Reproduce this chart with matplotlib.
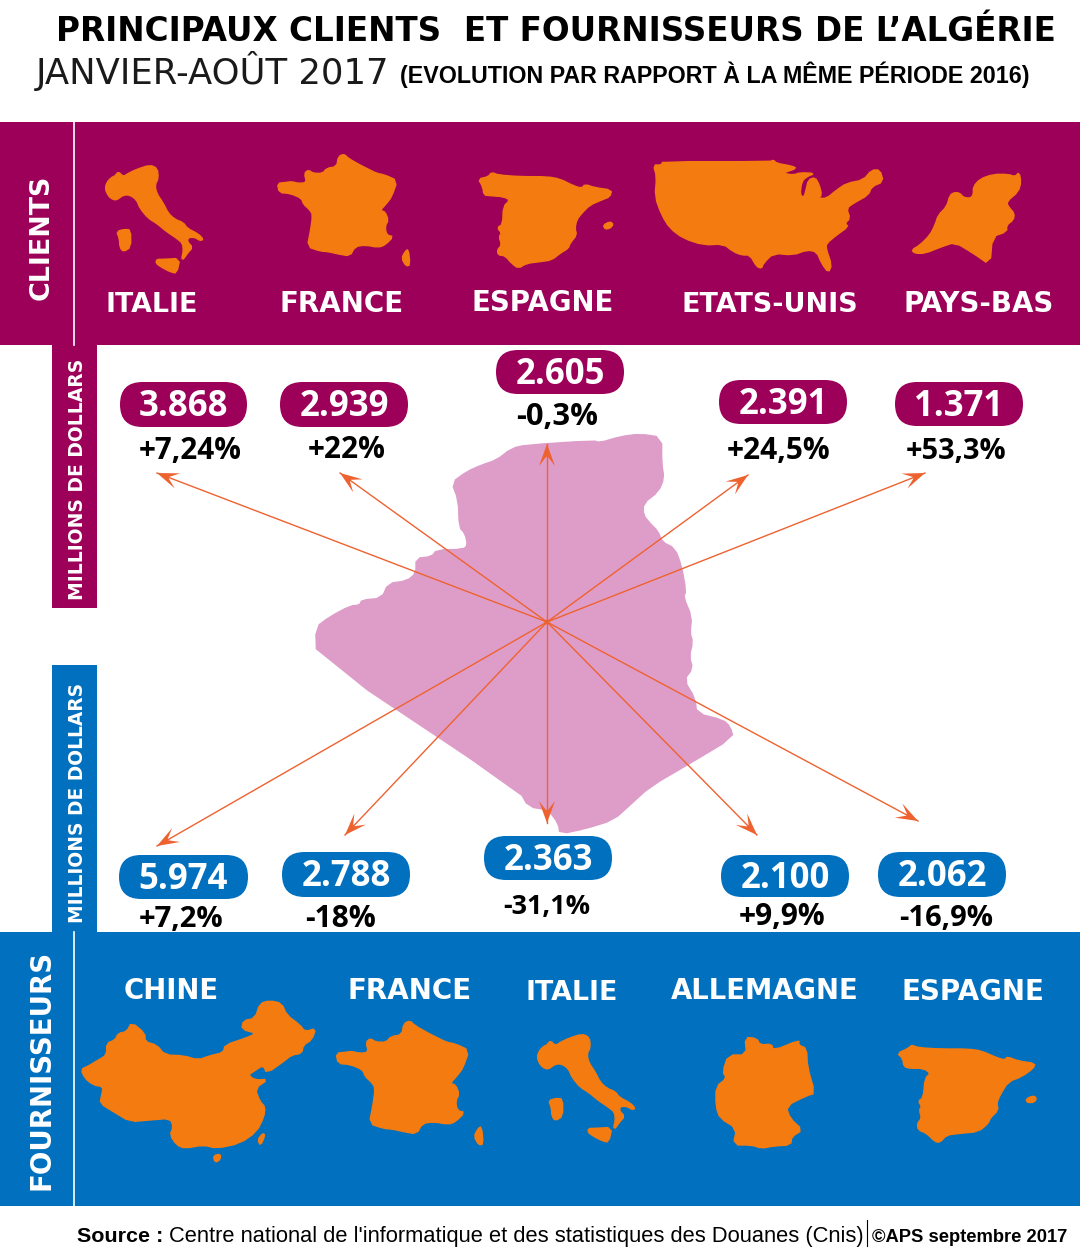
import matplotlib
matplotlib.use("Agg")
import matplotlib.pyplot as plt
from matplotlib.patches import Polygon, Rectangle, FancyBboxPatch, Circle
import math

PURPLE = '#9c0058'
BLUE = '#0070bf'
ORANGE = '#f47b10'
PINK = '#de9dc9'
ARROW = '#ee6230'

# data
client_names = ['ITALIE', 'FRANCE', 'ESPAGNE', 'ETATS-UNIS', 'PAYS-BAS']
client_values = ['3.868', '2.939', '2.605', '2.391', '1.371']
client_changes = ['+7,24%', '+22%', '-0,3%', '+24,5%', '+53,3%']
supplier_names = ['CHINE', 'FRANCE', 'ITALIE', 'ALLEMAGNE', 'ESPAGNE']
supplier_values = ['5.974', '2.788', '2.363', '2.100', '2.062']
supplier_changes = ['+7,2%', '-18%', '-31,1%', '+9,9%', '-16,9%']

# layout, in pixels: name x0, x1, baseline / pill x0, x1, y0, y1 / change x0, x1, baseline / arrow tip
client_name_pos = [(106, 198, 312), (280, 404, 312), (471, 613, 311), (682, 858, 312), (904, 1054, 312)]
client_pills = [(120, 247, 382, 427), (280, 408, 382, 427), (496, 624, 350, 394), (719, 847, 380, 424), (895, 1023, 382, 426)]
client_change_pos = [(139, 242, 459), (308, 386, 458), (516, 598, 425), (727, 831, 459), (906, 1007, 459)]
client_tips = [(157, 473), (340, 473), (547, 444), (748, 475), (925, 473)]
supplier_name_pos = [(124, 219, 999), (348, 472, 999), (525, 617, 1000), (671, 859, 999), (901, 1044, 1000)]
supplier_pills = [(119, 248, 855, 899), (282, 410, 852, 897), (484, 612, 836, 880), (721, 849, 855, 897), (878, 1006, 852, 897)]
supplier_change_pos = [(139, 224, 927), (305, 376, 927), (503, 590, 914), (739, 826, 925), (899, 993, 926)]
supplier_tips = [(157, 846), (345, 835), (547, 823), (757, 835), (918, 821)]
center = (547, 622)

algeria = [[(455,188),(500,155),(545,135),(590,120),(635,85),(680,75),(880,62),(900,68),(960,50),(1020,42),(1085,52),(1085,130),(1092,175),(1075,215),(1030,250),(1030,285),(1050,310),(1075,335),(1085,365),(1125,385),(1145,440),(1158,515),(1150,530),(1175,590),(1170,640),(1178,665),(1168,710),(1178,745),(1152,780),(1185,835),(1190,880),(1270,900),(1290,920),(1300,952),(1170,1030),(1050,1100),(990,1155),(940,1200),(860,1225),(780,1242),(775,1210),(745,1170),(685,1160),(660,1115),(50,708),(47,622),(90,590),(150,558),(180,555),(185,540),(245,535),(265,490),(320,483),(348,460),(348,415),(395,410),(410,390),(490,388),(503,375),(495,340),(478,322),(475,240)]]
italy = [[(22,65),(35,52),(45,48),(55,35),(70,50),(85,40),(110,28),(150,15),(172,25),(175,55),(165,75),(170,100),(190,130),(205,160),(225,178),(250,188),(262,205),(295,222),(310,238),(300,242),(285,232),(265,232),(262,245),(278,262),(262,280),(250,298),(245,295),(250,275),(248,250),(230,235),(200,215),(170,190),(145,175),(120,145),(110,120),(90,105),(70,105),(50,120),(38,118),(25,108),(15,85)],
         [(50,215),(72,208),(92,210),(92,262),(70,275),(60,262),(58,235)],
         [(170,298),(190,298),(240,295),(230,340),(210,335),(185,322),(168,310)]]
france = [[(22,100),(50,97),(65,95),(85,100),(110,98),(103,70),(115,60),(130,70),(158,70),(170,55),(200,50),(205,20),(222,12),(235,25),(270,45),(290,55),(320,70),(345,75),(382,92),(365,140),(350,160),(330,182),(345,185),(355,210),(345,230),(350,255),(370,260),(345,285),(325,292),(285,285),(255,290),(240,318),(205,312),(175,305),(150,303),(112,290),(122,240),(128,195),(120,180),(100,162),(95,145),(60,130),(28,128)],
          [(415,297),(420,345),(408,348),(395,325),(405,305)]]
spain = [[(25,42),(55,35),(65,22),(85,30),(150,35),(230,35),(270,42),(310,62),(335,70),(345,58),(375,68),(425,75),(420,95),(395,105),(360,120),(335,145),(320,165),(315,190),(320,210),(300,235),(295,250),(270,265),(245,285),(210,290),(170,295),(145,310),(125,295),(105,272),(85,270),(82,255),(95,240),(87,215),(95,205),(82,188),(98,178),(100,125),(120,105),(100,95),(60,92),(42,90),(38,65)],
         [(400,180),(420,170),(430,178),(420,190),(405,192)]]
spain_blue = [[(22,55),(55,40),(65,30),(85,38),(150,42),(235,42),(275,48),(320,68),(345,75),(352,65),(385,78),(435,85),(430,100),(395,125),(355,140),(330,180),(320,205),(325,225),(300,250),(295,265),(265,290),(210,295),(170,300),(150,322),(135,320),(110,295),(85,285),(82,265),(95,250),(88,225),(95,215),(85,198),(100,188),(105,130),(122,115),(100,100),(60,100),(42,95),(38,70)],
              [(408,192),(430,182),(440,190),(432,202),(412,203)]]
usa = [[(100,75),(125,75),(128,65),(450,65),(460,60),(470,70),(515,78),(530,85),(495,97),(490,100),(520,105),(540,98),(585,100),(560,110),(545,125),(540,165),(552,172),(558,150),(565,120),(585,112),(598,135),(605,165),(595,175),(620,175),(650,150),(680,130),(730,120),(755,90),(780,90),(790,125),(755,140),(745,165),(700,190),(680,205),(690,235),(675,250),(685,260),(650,285),(620,310),(618,325),(635,375),(625,398),(605,370),(590,335),(560,330),(520,345),(460,340),(430,370),(425,385),(410,380),(390,345),(365,345),(340,335),(310,312),(250,315),(190,295),(150,265),(125,225),(105,170),(110,110)]]
netherlands = [[(20,255),(45,240),(75,210),(90,180),(100,150),(125,125),(135,90),(150,82),(165,85),(175,97),(195,100),(205,90),(205,65),(225,42),(265,28),(310,28),(330,35),(342,22),(348,50),(340,80),(305,110),(310,125),(328,145),(325,165),(305,180),(305,200),(262,215),(255,300),(205,265),(150,232),(110,245),(60,265),(30,265)]]
china = [[(33,238),(55,228),(85,210),(110,195),(110,160),(135,150),(145,130),(170,125),(185,97),(225,130),(225,155),(260,165),(285,195),(340,197),(385,210),(420,197),(460,188),(465,165),(525,145),(560,130),(515,118),(520,92),(555,85),(570,40),(600,32),(635,40),(650,75),(690,105),(705,125),(738,115),(725,150),(700,165),(695,190),(665,195),(640,215),(590,250),(580,225),(550,245),(535,255),(555,270),(595,268),(555,295),(570,335),(585,350),(582,380),(560,425),(510,460),(440,475),(400,465),(345,475),(320,465),(300,435),(310,410),(300,385),(240,390),(180,395),(130,365),(90,340),(95,315),(100,290),(70,285),(45,265)],
         [(430,497),(452,492),(450,510),(435,517)],
         [(578,430),(585,435),(572,467),(563,450)]]
germany = [[(105,22),(140,25),(150,45),(185,42),(190,62),(268,30),(265,45),(290,55),(292,110),(315,190),(290,197),(228,228),(240,265),(278,300),(245,320),(242,345),(190,348),(155,355),(125,345),(70,345),(80,295),(30,265),(18,230),(18,170),(50,145),(38,125),(55,75),(110,75)]]

fig = plt.figure(figsize=(10.8, 12.56), dpi=100)
ax = fig.add_axes([0, 0, 1, 1])
ax.set_xlim(0, 1080)
ax.set_ylim(1256, 0)
ax.axis('off')
renderer = fig.canvas.get_renderer()


def put(s, x0, x1, y, family='DejaVu Sans', weight='bold', color='black', rotation=0):
    # fit the text to a pixel span along the reading direction
    anchor = (y, max(x0, x1)) if rotation else (x0, y)
    t = ax.text(anchor[0], anchor[1], s, family=family, weight=weight, color=color, fontsize=20,
                ha='left', va='baseline', rotation=rotation, rotation_mode='anchor', zorder=6)
    box = t.get_window_extent(renderer)
    length = box.height if rotation else box.width
    t.set_fontsize(20 * abs(x1 - x0) / length)
    return t


def smooth(pts):
    # one pass of corner cutting, the traced outlines are too angular otherwise
    out = []
    for i, (x, y) in enumerate(pts):
        nx, ny = pts[(i + 1) % len(pts)]
        out.append((0.75 * x + 0.25 * nx, 0.75 * y + 0.25 * ny))
        out.append((0.25 * x + 0.75 * nx, 0.25 * y + 0.75 * ny))
    return out


def shape(parts, x0, y0, scale=1.0, ox=0, oy=0, color=ORANGE, zorder=3):
    for part in parts:
        pts = [(x0 + (x - ox) * scale / 3, y0 + (y - oy) * scale / 3) for x, y in smooth(part)]
        # thin edge of the same colour makes up for what the corner cutting takes off
        ax.add_patch(Polygon(pts, closed=True, fc=color, ec=color, lw=1.0, zorder=zorder))


def arrow(tip):
    ax.plot([center[0], tip[0]], [center[1], tip[1]], color=ARROW, lw=1.0, zorder=4)
    a = math.atan2(tip[1] - center[1], tip[0] - center[0])
    ca, sa = math.cos(a), math.sin(a)
    head = [(0, 0), (-22, 8), (-13, 1), (-13, -1), (-22, -8)]
    pts = [(tip[0] + u * ca - v * sa, tip[1] + u * sa + v * ca) for u, v in head]
    ax.add_patch(Polygon(pts, closed=True, fc=ARROW, ec='none', zorder=4))


def pill(box, color):
    x0, x1, y0, y1 = box
    h = y1 - y0
    ax.add_patch(FancyBboxPatch((x0, y0), x1 - x0, h, boxstyle=f'round,pad=0,rounding_size={h / 2}',
                                fc=color, ec='none', zorder=5))


# bands
ax.add_patch(Rectangle((0, 122), 1080, 223, fc=PURPLE, ec='none'))
ax.add_patch(Rectangle((0, 932), 1080, 274, fc=BLUE, ec='none'))
ax.add_patch(Rectangle((52, 345), 45, 263, fc=PURPLE, ec='none'))
ax.add_patch(Rectangle((52, 665), 45, 267, fc=BLUE, ec='none'))
ax.plot([74, 74], [122, 345], color='white', lw=1.2)
ax.plot([74, 74], [932, 1206], color='white', lw=1.2)

# title
put('PRINCIPAUX CLIENTS  ET FOURNISSEURS DE L\u2019ALGÉRIE', 56, 1054, 41)
put('JANVIER-AOÛT 2017', 36, 388, 84, family='DejaVu Sans', weight='normal', color='#1a1a1a')
put('(EVOLUTION PAR RAPPORT À LA MÊME PÉRIODE 2016)', 400, 1032, 83, family='Liberation Sans')

# side labels
put('CLIENTS', 175, 300, 49, color='white', rotation=90)
put('FOURNISSEURS', 950, 1190, 49, color='white', rotation=90)
put('MILLIONS DE DOLLARS', 360, 600, 83, color='white', rotation=90)
put('MILLIONS DE DOLLARS', 684, 923, 83, color='white', rotation=90)

# maps
shape(algeria, 300, 420, color=PINK, zorder=1)
shape(italy, 100, 160)
shape(france, 270, 150)
shape(spain, 470, 165)
shape(usa, 620, 140)
shape(netherlands, 905, 165)
shape(china, 70, 990)
shape(france, 336, 1020.7, 1.11, 22, 12)
shape(italy, 532, 1029)
shape(germany, 710, 1030)
shape(spain_blue, 890, 1035)

# arrows, pills and labels
for tip in client_tips + supplier_tips:
    arrow(tip)
ax.add_patch(Circle(center, 2.5, fc=ARROW, ec='none', zorder=4))

for names, name_pos, values, pills, changes, change_pos, color in [
        (client_names, client_name_pos, client_values, client_pills,
         client_changes, client_change_pos, PURPLE),
        (supplier_names, supplier_name_pos, supplier_values, supplier_pills,
         supplier_changes, supplier_change_pos, BLUE)]:
    for i in range(5):
        x0, x1, y = name_pos[i]
        put(names[i], x0, x1, y, color='white')
        pill(pills[i], color)
        ax.text((pills[i][0] + pills[i][1]) / 2, (pills[i][2] + pills[i][3]) / 2 + 12, values[i],
                family='Open Sans', weight='bold', color='white', fontsize=25,
                ha='center', va='baseline', zorder=6)
        x0, x1, y = change_pos[i]
        put(changes[i], x0, x1, y, family='Open Sans')

# source line
narrow = 'Liberation Sans'
put('Source :', 77, 163, 1242, family=narrow)
put("Centre national de l'informatique et des statistiques des Douanes (Cnis)", 169, 863, 1242, family=narrow, weight='normal')
ax.plot([867, 867], [1220, 1246], color='black', lw=0.8)
put('©APS septembre 2017', 872, 1067, 1242, family=narrow)

fig.savefig('out.png', dpi=100)
